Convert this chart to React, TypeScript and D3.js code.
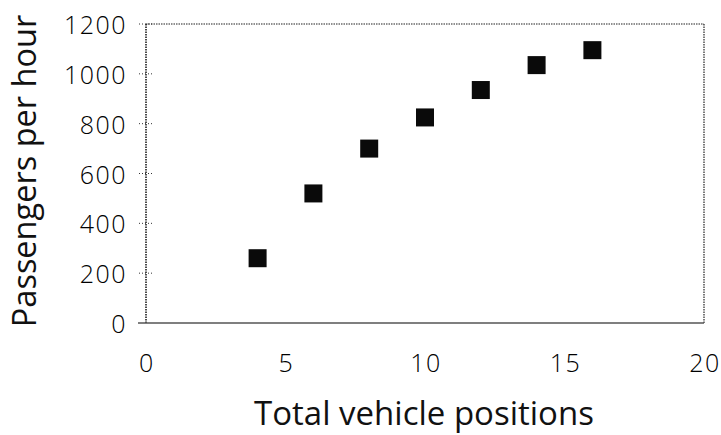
import React from "react";
import * as d3 from "d3";

const positions = [4, 6, 8, 10, 12, 14, 16];
const passengers = [260, 520, 700, 825, 935, 1035, 1095];
const xTicks = [0, 5, 10, 15, 20];
const yTicks = [0, 200, 400, 600, 800, 1000, 1200];

const W = 721;
const H = 435;
const FONT = "'Open Sans', sans-serif";

export default function App() {
  const x = d3.scaleLinear().domain([0, 20]).range([146, 704]);
  const y = d3.scaleLinear().domain([0, 1200]).range([323, 24]);
  const sq = 18;
  return (
    <svg
      width={W}
      height={H}
      style={{ position: "absolute", left: 0, top: 0, background: "#fff" }}
    >
      {/* frame */}
      <line x1={x(0)} x2={x(20)} y1={y(1200)} y2={y(1200)} stroke="#222" strokeWidth={1.2} strokeDasharray="1.5 1" />
      <line x1={x(20)} x2={x(20)} y1={y(1200)} y2={y(0)} stroke="#222" strokeWidth={1.2} strokeDasharray="1.5 1" />
      <line x1={x(0)} x2={x(0)} y1={y(1200)} y2={y(0)} stroke="#111" strokeWidth={1.5} strokeDasharray="1.5 1" />
      <line x1={x(0) - 8} x2={x(20)} y1={y(0)} y2={y(0)} stroke="#555" strokeWidth={1.5} />
      {/* y ticks */}
      {yTicks.map((t) => (
        <g key={t}>
          {t > 0 && (
            <line x1={x(0) - 7} x2={x(0) + 6} y1={y(t)} y2={y(t)} stroke="#333" strokeWidth={1} strokeDasharray="1 2" />
          )}
          <text
            x={127}
            y={y(t)}
            textAnchor="end"
            dominantBaseline="central"
            fontFamily={FONT}
            fontSize={25}
            fontWeight={300}
            letterSpacing={1.5}
            fill="#000"
          >
            {t}
          </text>
        </g>
      ))}
      {/* x tick labels */}
      {xTicks.map((t) => (
        <text
          key={t}
          x={x(t) + 1}
          y={362}
          textAnchor="middle"
          dominantBaseline="central"
          fontFamily={FONT}
          fontSize={25}
          fontWeight={300}
          letterSpacing={1.5}
          fill="#000"
        >
          {t}
        </text>
      ))}
      {/* points */}
      {positions.map((p, i) => (
        <rect
          key={p}
          x={x(p) - sq / 2}
          y={y(passengers[i]) - sq / 2}
          width={sq}
          height={sq}
          fill="#0a0a0a"
        />
      ))}
      {/* axis titles */}
      <text
        x={424}
        y={425}
        textAnchor="middle"
        fontFamily={FONT}
        fontSize={33}
        fill="#111"
      >
        Total vehicle positions
      </text>
      <text
        transform={`translate(36, ${171}) rotate(-90)`}
        textAnchor="middle"
        fontFamily={FONT}
        fontSize={32.5}
        fill="#111"
      >
        Passengers per hour
      </text>
    </svg>
  );
}
